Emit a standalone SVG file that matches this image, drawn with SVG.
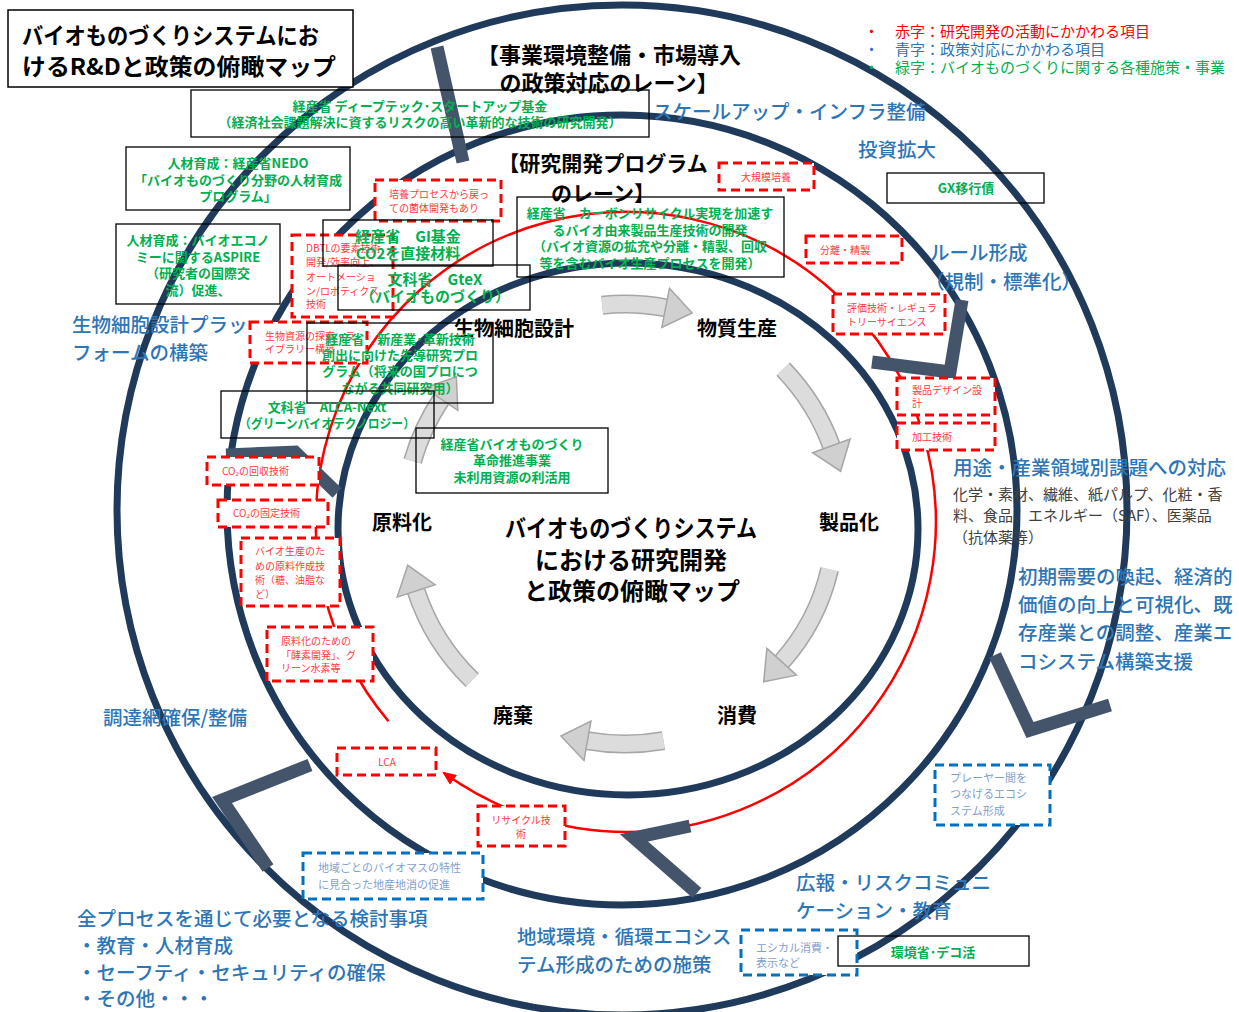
<svg xmlns="http://www.w3.org/2000/svg" width="1239" height="1012" viewBox="0 0 1239 1012">
<defs>
<style>
text{font-family:"Noto Sans CJK JP","Noto Sans",sans-serif;}
.ring{fill:none;stroke:#1f3a5a;stroke-width:7}
.bar{fill:none;stroke:#44546a;stroke-width:13;stroke-linejoin:miter}
.rl{fill:none;stroke:#ff0000;stroke-width:2.5}
.rd{fill:#fff;stroke:#ff0000;stroke-width:3;stroke-dasharray:9 5}
.bd{fill:#fff;stroke:#0070c0;stroke-width:3;stroke-dasharray:9 5}
.bk{fill:none;stroke:#000;stroke-width:1.3}
.go{fill:none;stroke:#a6a6a6;stroke-width:19}
.gi{fill:none;stroke:#dcdcdc;stroke-width:16;marker-end:url(#ga)}
.g{fill:#00b050;font-weight:bold;font-size:13px;text-anchor:middle}
.g15{font-size:15px}
.r{fill:#ff3b3b;font-size:10px}
.rc{text-anchor:middle}
.b{fill:#2e75b6;font-size:19.5px;font-weight:500}
.lb{fill:#7f9fcf;font-size:11px}
.k{fill:#000;font-weight:bold}
.gr{fill:#404040;font-size:15px}
</style>
<marker id="ra" markerUnits="userSpaceOnUse" markerWidth="14" markerHeight="12" refX="12" refY="6" orient="auto"><path d="M0,0 L14,6 L0,12 z" fill="#ff0000"/></marker>
<marker id="ga" markerUnits="userSpaceOnUse" markerWidth="30" markerHeight="46" refX="2" refY="23" orient="auto"><path d="M1,3 L28,23 L1,43 z" fill="#d0d0d0" stroke="#a6a6a6" stroke-width="1.5"/></marker>
</defs>
<rect width="1239" height="1012" fill="#fff"/>

<g id="rings">
<circle class="ring" cx="622" cy="510" r="505"/>
<circle class="ring" cx="622" cy="510" r="395"/>
<ellipse class="ring" cx="628" cy="529" rx="290" ry="266"/>
</g>

<g id="connectors">
<path class="rl" d="M388.5 721.3 A310 310 0 1 1 443.8 772.8" marker-end="url(#ra)"/>
</g>

<g id="chevrons">
<polyline class="bar" points="437,47 463,162"/>
<polyline class="bar" points="872,362 950,372 962,300"/>
<polyline class="bar" points="995,655 1030,730 1110,705"/>
<polyline class="bar" points="690,826 634,838 697,893"/>
<polyline class="bar" points="310,765 222,800 268,868"/>
<polyline class="bar" points="337,493 295,452 226,455"/>
</g>

<g id="cycle-arrows">
<path class="go" d="M602.2 305.2 A218 218 0 0 1 666.6 308"/><path class="gi" d="M602.2 305.2 A218 218 0 0 1 666.6 308"/>
<path class="go" d="M783.2 369.2 A220 220 0 0 1 831.7 446.8"/><path class="gi" d="M783.2 369.2 A220 220 0 0 1 831.7 446.8"/>
<path class="go" d="M829.6 569.3 A210 210 0 0 1 781.1 662.5"/><path class="gi" d="M829.6 569.3 A210 210 0 0 1 781.1 662.5"/>
<path class="go" d="M663.5 740.6 A222 222 0 0 1 586.5 740.6"/><path class="gi" d="M663.5 740.6 A222 222 0 0 1 586.5 740.6"/>
<path class="go" d="M472.2 680.2 A220 220 0 0 1 415.8 590"/><path class="gi" d="M472.2 680.2 A220 220 0 0 1 415.8 590"/>
<path class="go" d="M412.6 461.1 A221 221 0 0 1 441.8 398.4"/><path class="gi" d="M412.6 461.1 A221 221 0 0 1 441.8 398.4"/>
</g>

<g id="title">
<rect x="8" y="10" width="345" height="77" fill="#fff" stroke="#000" stroke-width="1.5"/>
<text class="k" x="22" y="44" font-size="23" textLength="297" lengthAdjust="spacingAndGlyphs">バイオものづくりシステムにお</text>
<text class="k" x="22" y="75" font-size="23" textLength="314" lengthAdjust="spacingAndGlyphs">けるR&amp;Dと政策の俯瞰マップ</text>
</g>

<g id="legend">
<text x="864" y="37" font-size="15" fill="#ff0000">・</text><text x="895" y="37" font-size="15" fill="#ff0000">赤字：研究開発の活動にかかわる項目</text>
<text x="864" y="55" font-size="15" fill="#2e75b6">・</text><text x="895" y="55" font-size="15" fill="#2e75b6">青字：政策対応にかかわる項目</text>
<text x="864" y="73" font-size="15" fill="#00b050">・</text><text x="895" y="73" font-size="15" fill="#00b050">緑字：バイオものづくりに関する各種施策・事業</text>
</g>

<g id="lane-titles">
<text class="k" x="609" y="63" font-size="22" text-anchor="middle">【事業環境整備・市場導入</text>
<text class="k" x="609" y="91" font-size="22" text-anchor="middle">の政策対応のレーン】</text>
<text class="k" x="603" y="171" font-size="21" text-anchor="middle">【研究開発プログラム</text>
<text class="k" x="603" y="201" font-size="21" text-anchor="middle">のレーン】</text>
</g>

<g id="stages">
<text class="k" x="514" y="336" font-size="20" text-anchor="middle">生物細胞設計</text>
<text class="k" x="737" y="336" font-size="20" text-anchor="middle">物質生産</text>
<text class="k" x="849" y="530" font-size="20" text-anchor="middle">製品化</text>
<text class="k" x="737" y="723" font-size="20" text-anchor="middle">消費</text>
<text class="k" x="513" y="723" font-size="20" text-anchor="middle">廃棄</text>
<text class="k" x="402" y="530" font-size="20" text-anchor="middle">原料化</text>
</g>

<g id="center-title">
<text class="k" x="505" y="537" font-size="24" textLength="252" lengthAdjust="spacingAndGlyphs">バイオものづくりシステム</text>
<text class="k" x="631" y="569" font-size="24" text-anchor="middle">における研究開発</text>
<text class="k" x="632" y="600" font-size="24" text-anchor="middle">と政策の俯瞰マップ</text>
</g>

<g id="red-nodes">
<g id="n-taikibo"><rect class="rd" x="719" y="163" width="95" height="27"/><text class="r rc" x="766" y="181">大規模培養</text></g>
<g id="n-bunri"><rect class="rd" x="806" y="236" width="96" height="27"/><text class="r" x="820" y="254">分離・精製</text></g>
<g id="n-hyoka"><rect class="rd" x="833" y="294" width="112" height="40"/><text class="r" x="847" y="312">評価技術・レギュラ</text><text class="r" x="847" y="326">トリーサイエンス</text></g>
<g id="n-design"><rect class="rd" x="897" y="378" width="98" height="37"/><text class="r" x="912" y="394">製品デザイン設</text><text class="r" x="912" y="407">計</text></g>
<g id="n-kako"><rect class="rd" x="897" y="423" width="98" height="27"/><text class="r" x="912" y="441">加工技術</text></g>
<g id="n-baiyo"><rect class="rd" x="375" y="180" width="126" height="41"/><text class="r" x="389" y="198">培養プロセスから戻っ</text><text class="r" x="389" y="212">ての菌体開発もあり</text></g>
<g id="n-dbtl"><rect class="rd" x="292" y="235" width="101" height="82"/><text class="r" x="306" y="252">DBTLの要素技術</text><text class="r" x="306" y="266">開発/効率向上、</text><text class="r" x="306" y="281">オートメーショ</text><text class="r" x="306" y="295">ン/ロボティクス</text><text class="r" x="306" y="308">技術</text></g>
<g id="n-seibutsu"><rect class="rd" x="250" y="322" width="117" height="41"/><text class="r" x="265" y="340">生物資源の探索・ラ</text><text class="r" x="265" y="353">イブラリー構築</text></g>
<g id="n-co2kaishu"><rect class="rd" x="207" y="457" width="112" height="28"/><text class="r" x="222" y="475">CO₂の回収技術</text></g>
<g id="n-co2kotei"><rect class="rd" x="218" y="500" width="110" height="27"/><text class="r" x="233" y="517">CO₂の固定技術</text></g>
<g id="n-genryo"><rect class="rd" x="241" y="538" width="99" height="68"/><text class="r" x="255" y="555">バイオ生産のた</text><text class="r" x="255" y="570">めの原料作成技</text><text class="r" x="255" y="584">術（糖、油脂な</text><text class="r" x="255" y="598">ど）</text></g>
<g id="n-koso"><rect class="rd" x="267" y="627" width="106" height="54"/><text class="r" x="281" y="645">原料化のための</text><text class="r" x="281" y="659">「酵素開発」、グ</text><text class="r" x="281" y="672">リーン水素等</text></g>
<g id="n-lca"><rect class="rd" x="337" y="748" width="99" height="27"/><text class="r rc" x="387" y="766">LCA</text></g>
<g id="n-recycle"><rect class="rd" x="478" y="806" width="87" height="40"/><text class="r rc" x="521" y="824">リサイクル技</text><text class="r rc" x="521" y="838">術</text></g>
</g>

<g id="blue-nodes">
<g id="n-player"><rect class="bd" x="935" y="765" width="115" height="60"/><text class="lb" x="950" y="782">プレーヤー間を</text><text class="lb" x="950" y="798">つなげるエコシ</text><text class="lb" x="950" y="815">ステム形成</text></g>
<g id="n-chiiki"><rect class="bd" x="303" y="853" width="180" height="46"/><text class="lb" x="318" y="872">地域ごとのバイオマスの特性</text><text class="lb" x="318" y="889">に見合った地産地消の促進</text></g>
<g id="n-ethical"><rect class="bd" x="741" y="930" width="116" height="45"/><text class="lb" x="756" y="952">エシカル消費・</text><text class="lb" x="756" y="967">表示など</text></g>
</g>

<g id="green-nodes">
<g id="n-deeptech"><rect class="bk" x="191" y="90" width="458" height="47"/><text class="g" x="420" y="111">経産省 ディープテック･スタートアップ基金</text><text class="g" x="420" y="127">（経済社会課題解決に資するリスクの高い革新的な技術の研究開発）</text></g>
<g id="n-nedo"><rect class="bk" x="126" y="147" width="224" height="63"/><text class="g" x="238" y="168">人材育成：経産省NEDO</text><text class="g" x="238" y="185">「バイオものづくり分野の人材育成</text><text class="g" x="238" y="201">プログラム」</text></g>
<g id="n-aspire"><rect class="bk" x="116" y="224" width="164" height="80"/><text class="g" x="198" y="245">人材育成：バイオエコノ</text><text class="g" x="198" y="262">ミーに関するASPIRE</text><text class="g" x="198" y="278">（研究者の国際交</text><text class="g" x="198" y="295">流）促進、</text></g>
<g id="n-gi"><rect class="bk" x="323" y="220" width="170" height="46"/><text class="g g15" x="408" y="242">経産省　GI基金</text><text class="g g15" x="408" y="259">CO2を直接材料</text></g>
<g id="n-gtex"><rect class="bk" x="338" y="265" width="192" height="45"/><text class="g g15" x="435" y="285">文科省　GteX</text><text class="g g15" x="435" y="302">（バイオものづくり）</text></g>
<g id="n-sendo"><rect class="bk" x="307" y="323" width="186" height="80"/><text class="g" x="400" y="344">経産省　新産業･革新技術</text><text class="g" x="400" y="360">創出に向けた先導研究プロ</text><text class="g" x="400" y="376">グラム（将来の国プロにつ</text><text class="g" x="400" y="393">ながる共同研究用）</text></g>
<g id="n-carbon"><rect class="bk" x="517" y="197" width="267" height="80"/><text class="g" x="650" y="218">経産省　カーボンリサイクル実現を加速す</text><text class="g" x="650" y="235">るバイオ由来製品生産技術の開発</text><text class="g" x="650" y="251">（バイオ資源の拡充や分離・精製、回収</text><text class="g" x="650" y="268">等を含むバイオ生産プロセスを開発）</text></g>
<g id="n-alca"><rect class="bk" x="221" y="391" width="213" height="47"/><text class="g" x="327" y="412">文科省　ALCA-Next</text><text class="g" x="327" y="428" textLength="176" lengthAdjust="spacingAndGlyphs">（グリーンバイオテクノロジー）</text></g>
<g id="n-kakumei"><rect class="bk" x="416" y="428" width="192" height="65"/><text class="g" x="512" y="449">経産省バイオものづくり</text><text class="g" x="512" y="465">革命推進事業</text><text class="g" x="512" y="482">未利用資源の利活用</text></g>
<g id="n-gx"><rect class="bk" x="887" y="173" width="157" height="30"/><text class="g" x="966" y="193">GX移行債</text></g>
<g id="n-deco"><rect class="bk" x="838" y="936" width="191" height="30"/><text class="g" x="933" y="957">環境省･デコ活</text></g>
</g>

<g id="blue-labels">
<text class="b" x="653" y="119">スケールアップ・インフラ整備</text>
<text class="b" x="858" y="157">投資拡大</text>
<text class="b" x="930" y="260">ルール形成</text>
<text class="b" x="925" y="289">（規制・標準化）</text>
<text class="b" x="953" y="475">用途・産業領域別課題への対応</text>
<text class="gr" x="953" y="500">化学・素材、繊維、紙パルプ、化粧・香</text>
<text class="gr" x="953" y="521">料、食品、エネルギー（SAF）、医薬品</text>
<text class="gr" x="953" y="543">（抗体薬等）</text>
<text class="b" x="1018" y="584">初期需要の喚起、経済的</text>
<text class="b" x="1018" y="612">価値の向上と可視化、既</text>
<text class="b" x="1018" y="640">存産業との調整、産業エ</text>
<text class="b" x="1018" y="669">コシステム構築支援</text>
<text class="b" x="72" y="332">生物細胞設計プラッ</text>
<text class="b" x="72" y="360">フォームの構築</text>
<text class="b" x="103" y="725">調達網確保/整備</text>
<text class="b" x="77" y="926">全プロセスを通じて必要となる検討事項</text>
<text class="b" x="77" y="953">・教育・人材育成</text>
<text class="b" x="77" y="980">・セーフティ・セキュリティの確保</text>
<text class="b" x="77" y="1006">・その他・・・</text>
<text class="b" x="517" y="944">地域環境・循環エコシス</text>
<text class="b" x="517" y="972">テム形成のための施策</text>
<text class="b" x="796" y="890">広報・リスクコミュニ</text>
<text class="b" x="796" y="918">ケーション・教育</text>
</g>
</svg>
